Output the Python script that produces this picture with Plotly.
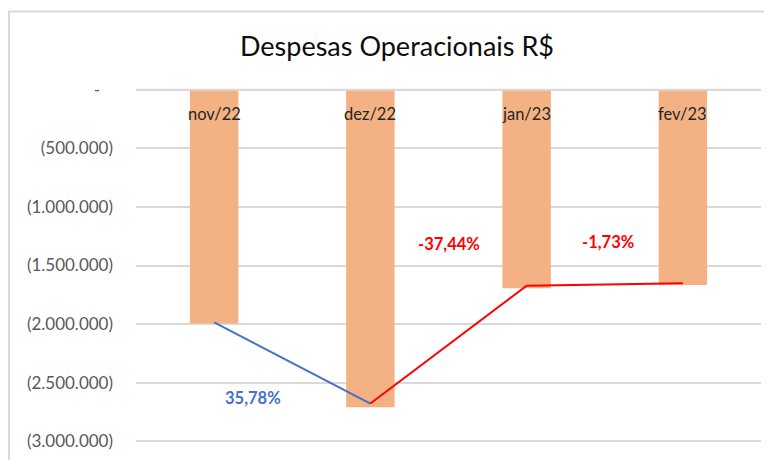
import plotly.graph_objects as go

# Data
categories = ["nov/22", "dez/22", "jan/23", "fev/23"]
despesas = [-1995000, -2709000, -1695000, -1666000]
linha_valores = [-1985000, -2678000, -1672000, -1652000]
pct_labels = ["35,78%", "-37,44%", "-1,73%"]
tick_vals = [0, -500000, -1000000, -1500000, -2000000, -2500000, -3000000]
tick_text = ["-" + "\u00a0" * 3, "(500.000)", "(1.000.000)", "(1.500.000)", "(2.000.000)", "(2.500.000)", "(3.000.000)"]

FONT = "Lato"
OFF = 8  # page body margin offset
W, H = 772 - OFF, 460 - OFF
PX_PER_M = 117.0
PAD = 100000
y_top, y_bot = 90 - OFF - PAD / 1e6 * PX_PER_M, 441 - OFF + PAD / 1e6 * PX_PER_M
ML, MR = 136 - OFF, 11
MT, MB = y_top, H - y_bot

fig = go.Figure()
fig.add_trace(go.Bar(x=categories, y=despesas, marker_color="#F4B183",
                     marker_line_width=0, hoverinfo="skip"))
# blue segment (nov -> dez)
fig.add_trace(go.Scatter(x=categories[0:2], y=linha_valores[0:2], mode="lines",
                         line=dict(color="#4472C4", width=2)))
# red segment (dez -> jan -> fev)
fig.add_trace(go.Scatter(x=categories[1:4], y=linha_valores[1:4], mode="lines",
                         line=dict(color="#FF0000", width=2)))

# category labels just below the zero line
for c in categories:
    fig.add_annotation(x=c, y=0, xref="x", yref="y", text=c, showarrow=False,
                       yanchor="middle", yshift=-24,
                       font=dict(family=FONT, size=16.5, color="#262626"))

# percentage annotations
pct_pos = [(0.25, -2630000, "#4472C4"), (1.5, -1316000, "#FF0000"), (2.52, -1300000, "#FF0000")]
for lbl, (px, py, col) in zip(pct_labels, pct_pos):
    fig.add_annotation(x=px, y=py, xref="x", yref="y", text="<b>%s</b>" % lbl,
                       showarrow=False, font=dict(family=FONT, size=16.5, color=col))

# chart frame (Excel chart-area border), in paper units
pw, ph = W - ML - MR, H - MT - MB
def px_x(v):
    return (v - ML) / pw
def px_y(v):
    return 1 - (v - MT) / ph
fig.add_shape(type="rect", xref="paper", yref="paper",
              x0=px_x(9 - OFF), x1=px_x(W + 20), y0=px_y(12 - OFF), y1=px_y(H + 20),
              line=dict(color="#D9D9D9", width=2), fillcolor="rgba(0,0,0,0)", layer="below")
# horizontal axis line at zero
fig.add_hline(y=0, line=dict(color="#D9D9D9", width=2), layer="above")

fig.update_layout(
    width=W, height=H,
    margin=dict(l=ML, r=MR, t=MT, b=MB, autoexpand=False),
    paper_bgcolor="white", plot_bgcolor="white",
    showlegend=False,
    bargap=0.69,
    title=dict(text="Despesas Operacionais R$", x=px_x(397 - OFF), xref="paper", xanchor="center",
               y=1 - (47 - OFF) / H, yref="container", yanchor="middle",
               font=dict(family=FONT, size=27, color="#0d0d0d")),
    font=dict(family=FONT),
)
fig.update_xaxes(type="category", showticklabels=False, ticks="",
                 showline=False, showgrid=False, zeroline=False, automargin=False,
                 range=[-0.5, 3.5])
fig.update_yaxes(range=[-3000000 - PAD, PAD], tickvals=tick_vals, ticktext=tick_text,
                 showgrid=True, gridcolor="#D9D9D9", gridwidth=1.5, zeroline=False,
                 showline=False, ticks="", ticklabelstandoff=22, automargin=False,
                 tickfont=dict(family=FONT, size=17, color="#595959"))

fig.write_html("out.html")
